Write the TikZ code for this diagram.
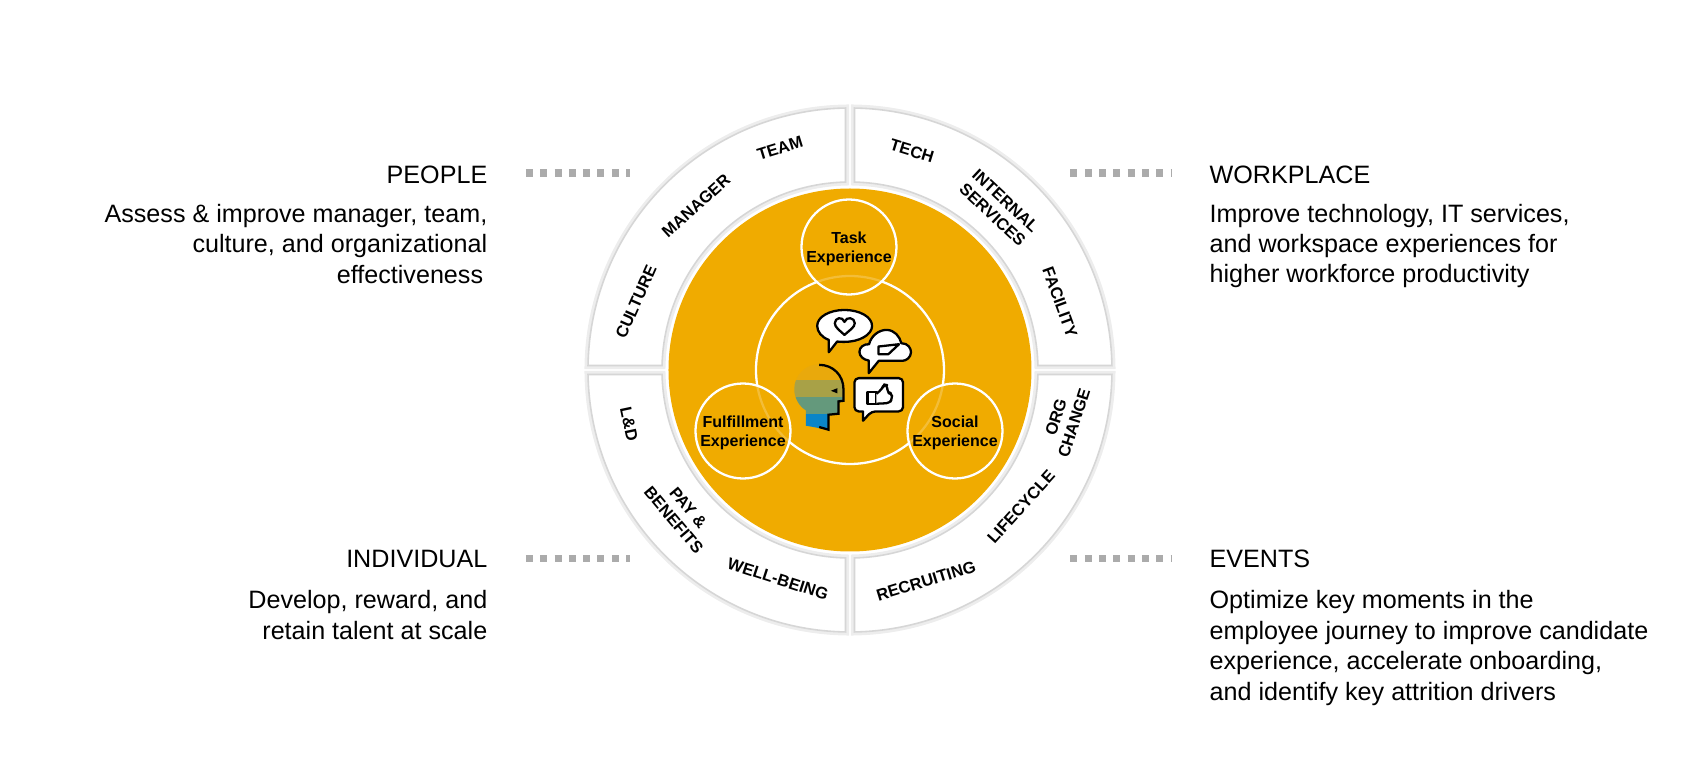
\documentclass[tikz,border=0pt]{standalone}
\usepackage{fontspec}
\setmainfont{Liberation Sans}
\usetikzlibrary{positioning}
\definecolor{corefill}{HTML}{F0AB00}
\definecolor{dashgray}{HTML}{ABABAB}
\definecolor{bandgold}{HTML}{E9A90C}
\definecolor{bandolive}{HTML}{A8A147}
\definecolor{bandgreen}{HTML}{64997C}
\definecolor{bandblue}{HTML}{0A85C8}

\begin{document}
\begin{tikzpicture}[
	% Define styles
	segmentbox/.style={fill=white, draw=black!16, line width=0.45pt, preaction={draw=black!7, line width=2pt}},
	corenode/.style={circle, fill=corefill, minimum size=3.63cm, inner sep=0pt},
	ringnode/.style={circle, draw=white, line width=0.65pt, minimum size=1.88cm, inner sep=0pt},
	expnode/.style={circle, draw=white, line width=0.65pt, fill=corefill, fill opacity=0.78, text opacity=1, minimum size=0.95cm, inner sep=0pt, align=center, text depth=0pt, font=\fontsize{4.55}{5.25}\selectfont\bfseries},
	ringlabel/.style={align=center, inner sep=0pt, font=\fontsize{4.7}{5.4}\selectfont\bfseries},
	headtext/.style={inner sep=0pt, font=\fontsize{7.15}{8.65}\selectfont},
	bodyleft/.style={headtext, align=right, anchor=east},
	bodyright/.style={headtext, align=left, anchor=west},
	dashline/.style={dashgray, line width=2pt, dash pattern=on 0.07cm off 0.073cm},
	iconline/.style={draw=black, line width=0.65pt, line join=round, fill=white}
	]
	
	\useasboundingbox (-8.5,-3.95) rectangle (8.49,3.70);
	
	% Four quarter segments
	\foreach \ang in {0,90,180,270}
		\draw[segmentbox, rotate=\ang] (88.63:1.88) arc[start angle=88.63, end angle=1.37, radius=1.88] -- (0.98:2.62) arc[start angle=0.98, end angle=89.02, radius=2.62] -- cycle;
	
	% Central core
	\node[corenode] (core) at (0,0) {};
	\node[ringnode] (ring) at (0,0) {};
	
	% Three experience circles
	\node[expnode] (task) at (-0.01,1.23) {Task\\Experience};
	\node[expnode] (fulfillment) at (-1.07,-0.61) {Fulfillment\\Experience};
	\node[expnode] (social) at (1.05,-0.61) {Social\\Experience};
	
	% Segment labels
	\node[ringlabel, rotate=17] (team) at (-0.70,2.22) {TEAM};
	\node[ringlabel, rotate=42] (manager) at (-1.54,1.64) {MANAGER};
	\node[ringlabel, rotate=66] (culture) at (-2.14,0.68) {CULTURE};
	\node[ringlabel, rotate=-17] (tech) at (0.62,2.19) {TECH};
	\node[ringlabel, rotate=-43] (services) at (1.49,1.62) {INTERNAL\\SERVICES};
	\node[ringlabel, rotate=-70] (facility) at (2.10,0.68) {FACILITY};
	\node[ringlabel, rotate=72] (orgchange) at (2.15,-0.50) {ORG\\CHANGE};
	\node[ringlabel, rotate=48] (lifecycle) at (1.71,-1.37) {LIFECYCLE};
	\node[ringlabel, rotate=17] (recruiting) at (0.76,-2.11) {RECRUITING};
	\node[ringlabel, rotate=-18] (wellbeing) at (-0.72,-2.09) {WELL-BEING};
	\node[ringlabel, rotate=-50] (pay) at (-1.69,-1.44) {PAY \&\\BENEFITS};
	\node[ringlabel, rotate=-78] (ld) at (-2.21,-0.54) {L\&D};
	
	% Side texts
	\node[bodyleft] (people) at (-3.62,1.955) {PEOPLE};
	\node[bodyleft] (peopletext) at (-3.62,1.26) {Assess \& improve manager, team,\\culture, and organizational\\effectiveness\,};
	\node[bodyleft] (individual) at (-3.62,-1.89) {INDIVIDUAL};
	\node[bodyleft] (individualtext) at (-3.62,-2.45) {Develop, reward, and\\retain talent at scale};
	\node[bodyright] (workplace) at (3.59,1.955) {WORKPLACE};
	\node[bodyright] (workplacetext) at (3.59,1.24) {Improve technology, IT services,\\and workspace experiences for\\higher workforce productivity};
	\node[bodyright] (events) at (3.59,-1.89) {EVENTS};
	\node[bodyright] (eventstext) at (3.59,-2.78) {Optimize key moments in the\\employee journey to improve candidate\\experience, accelerate onboarding,\\and identify key attrition drivers};
	
	% Dashed leaders
	\coordinate (peopleend) at (-2.2,1.97);
	\coordinate (individualend) at (-2.2,-1.886);
	\coordinate (workplacestart) at (2.205,1.97);
	\coordinate (eventsstart) at (2.205,-1.886);
	\draw[dashline] ([xshift=0.38cm]people.east |- peopleend) -- (peopleend);
	\draw[dashline] ([xshift=0.38cm]individual.east |- individualend) -- (individualend);
	\draw[dashline] (workplacestart) -- ([xshift=-0.37cm]workplace.west |- workplacestart);
	\draw[dashline] (eventsstart) -- ([xshift=-0.37cm]events.west |- eventsstart);
	
	% Head and speech bubbles
	\begin{scope}[shift={(-0.9,0.8)}, x=0.00333cm, y=-0.00333cm]
		\begin{scope}
			\clip (178,223) .. controls (137,223) and (103,256) .. (103,298) .. controls (103,325) and (118,350) .. (138,362) -- (138,408) -- (205,420) -- (205,375) -- (238,372) -- (238,335) -- (253,332) -- (253,298) .. controls (253,256) and (219,223) .. (178,223) -- cycle;
			\fill[bandgold] (95,215) rectangle (260,272);
			\fill[bandolive] (95,272) rectangle (260,322);
			\fill[bandgreen] (95,322) rectangle (260,372);
			\fill[bandblue] (95,372) rectangle (260,425);
		\end{scope}
		\draw[black, line width=0.65pt, line join=miter] (178,225) .. controls (219,225) and (251,256) .. (251,298) -- (251,333) -- (236,335) -- (236,372) -- (206,375) -- (206,420) -- (178,412);
		\fill[black] (213,303) -- (233,295) -- (233,311) -- cycle;
		% Heart bubble
		\draw[iconline] (207,187) -- (207,150) .. controls (185,142) and (172,125) .. (172,108) .. controls (172,80) and (210,60) .. (254,60) .. controls (298,60) and (337,80) .. (337,108) .. controls (337,135) and (298,156) .. (254,156) .. controls (248,156) and (240,156) .. (232,155) -- cycle;
		\draw[iconline] (254,135) .. controls (240,122) and (225,112) .. (225,100) .. controls (225,83) and (248,78) .. (254,96) .. controls (260,78) and (285,83) .. (285,100) .. controls (285,112) and (268,122) .. (254,135) -- cycle;
		% Cloud bubble
		\draw[iconline] (327,250) -- (327,212) .. controls (310,210) and (299,198) .. (299,186) .. controls (299,172) and (312,162) .. (328,163) .. controls (335,135) and (360,120) .. (380,120) .. controls (405,120) and (420,140) .. (425,160) .. controls (445,160) and (454,175) .. (454,187) .. controls (454,202) and (440,213) .. (428,213) -- (357,213) -- cycle;
		\draw[iconline] (356,170) -- (418,163) -- (386,193) -- (356,193) -- cycle;
		% Thumb bubble
		\draw[iconline, rounded corners=1.2pt] (284,265) -- (430,265) -- (430,365) -- (335,365) [sharp corners] -- (310,393) -- (310,365) [rounded corners=1.2pt] -- (284,365) -- cycle;
		\draw[iconline] (323,307) rectangle (350,342);
		\draw[iconline, rounded corners=1pt] (350,312) -- (367,298) -- (372,284) -- (383,286) -- (383,310) -- (397,310) -- (397,327) -- (390,340) -- (350,342);
	\end{scope}
	
\end{tikzpicture}
\end{document}
